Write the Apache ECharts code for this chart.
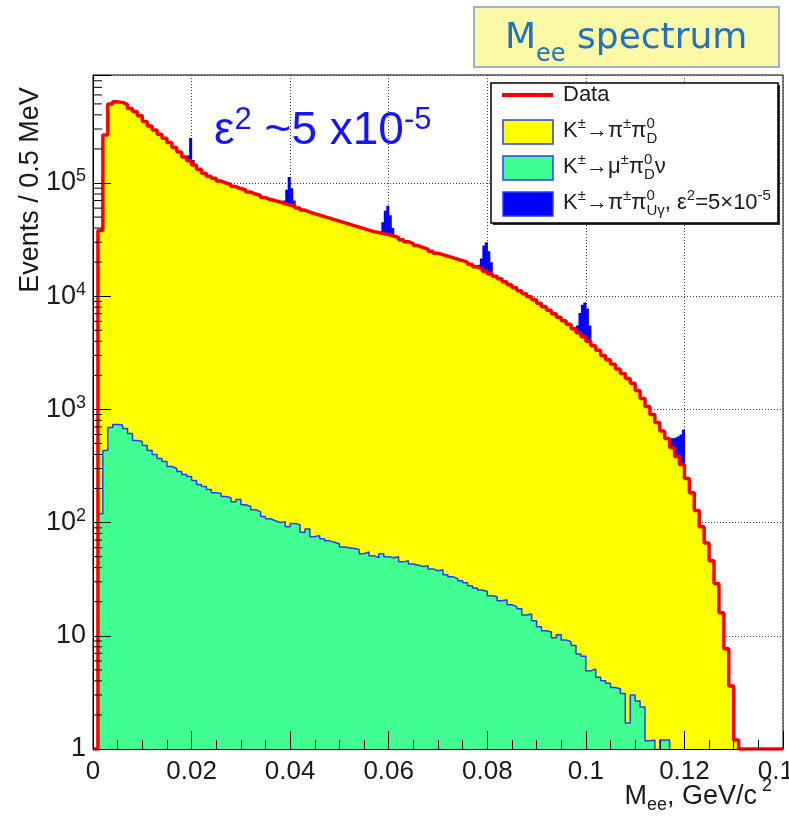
<!DOCTYPE html>
<html>
<head>
<meta charset="utf-8">
<script src="https://cdn.jsdelivr.net/npm/echarts@6/dist/echarts.min.js"></script>
<style>
  html, body { margin: 0; padding: 0; background: #fff; }
  #chart { width: 789px; height: 817px; }
</style>
</head>
<body>
<div id="chart"></div>
<script>
// M_ee spectrum, events per bin (1 MeV bins, 0 .. 0.14 GeV)
const binWidth = 0.001;
const xMax = 0.14;

const dataCounts = [
  1, 38000, 266000, 500000, 521000, 515000, 495000, 456000, 429000, 392000,
  350000, 319000, 294000, 269000, 248000, 228000, 206000, 188000, 170000, 157000,
  144000, 132000, 122000, 115000, 110000, 104000, 100000, 97000, 93100, 89400,
  86700, 83200, 79900, 77500, 74400, 71500, 70000, 67900, 65900, 63900,
  62600, 60100, 57700, 55400, 53700, 52100, 50500, 49000, 47500, 46100,
  44700, 43400, 42000, 40800, 39600, 38400, 37200, 36500, 35700, 35000,
  34000, 33000, 31600, 30300, 29200, 28000, 26900, 26100, 25000, 24000,
  23300, 22600, 21900, 21200, 20600, 20000, 19200, 18200, 17500, 16600,
  15800, 15000, 14300, 13400, 12600, 11900, 11200, 10500, 9900, 9300,
  8670, 8070, 7520, 7000, 6520, 6070, 5650, 5150, 4750, 4380,
  4000, 3650, 3330, 3000, 2740, 2500, 2280, 2080, 1880, 1700,
  1470, 1250, 1060, 900, 767, 645, 553, 461, 384, 326,
  245, 184, 128, 92, 66, 46, 29, 16, 7.7, 3.6,
  1.2, 1, 1, 1, 1, 1, 1, 1, 1, 1
];

// K -> pi pi0_D MC sum sits on the data
const mcCounts = dataCounts;

const muCounts = [
  0.5, 120, 433, 693, 736, 730, 679, 613, 532, 521,
  480, 434, 400, 368, 347, 313, 301, 283, 266, 255,
  235, 217, 208, 196, 184, 181, 170, 166, 153, 160,
  144, 139, 130, 125, 113, 108, 104, 100, 102, 92,
  98, 96, 82, 88, 75, 77, 72, 69, 67, 65,
  61, 60, 59, 58, 53, 55, 51, 49, 53, 50,
  49, 50, 45, 46, 43, 42, 41, 41.5, 39, 37.6,
  38.4, 34.7, 33.3, 32, 30.7, 29.4, 27.7, 26.5, 25.4, 24.6,
  22.6, 22.1, 20.4, 20.8, 18.8, 18.1, 17.3, 15.3, 15.6, 13.6,
  12.0, 11.1, 10.8, 9.6, 10.2, 9.2, 8.85, 8.2, 6.9, 6.6,
  4.9, 5.1, 4.3, 4.0, 3.8, 3.5, 3.4, 3.1, 1.7, 3.0,
  2.66, 2.35, 1.18, 1.2, 0.5, 1.2, 1.2, 0.5, 0.5, 0.5,
  0.5, 0.5, 0.5, 0.5, 0.5, 0.5, 0.5, 0.5, 0.5, 0.5,
  0.5, 0.5, 0.5, 0.5, 0.5, 0.5, 0.5, 0.5, 0.5, 0.5
];

// U-gamma signal peaks (total counts, 0.5 MeV bins from peakStart)
const halfBin = 0.0005;
const peakStart = [0.019, 0.0385, 0.0585, 0.078, 0.0975, 0.1165];
const peakCounts = [
  [175000, 250000, 160000],
  [70000, 87000, 113000, 90000, 70000],
  [45000, 57000, 63000, 52000, 40000],
  [19000, 21500, 28000, 30000, 25000, 20000],
  [4800, 5500, 7100, 8400, 8800, 7800, 5500, 3800],
  [540, 560, 555, 565, 580, 600, 660]
];

const yMin = 1, yMax = 9e5;

const FONT = "'Liberation Sans', Arial, sans-serif";
const INK = '#1a1a1a';

function histPoints(counts) {
  const pts = counts.map((c, i) => [i * binWidth, c]);
  pts.push([xMax, counts[counts.length - 1]]);
  return pts;
}

const peakBins = [];
peakStart.forEach((s, p) => {
  peakCounts[p].forEach((c, k) => peakBins.push([s + k * halfBin, c]));
});

// log minor ticks 2..9 x 10^k
const minorTickData = [];
for (let e = 0; e <= 5; e++) {
  for (let m = 2; m <= 9; m++) {
    const v = m * Math.pow(10, e);
    if (v < yMax) minorTickData.push([0, v]);
  }
}

// --- text helpers for sub/superscripts ---
const mctx = document.createElement('canvas').getContext('2d');
function textW(t, size, family) {
  mctx.font = size + 'px ' + family;
  return mctx.measureText(t).width;
}
function composed(x, y, parts, opts) {
  const family = opts.family || FONT;
  let cx = 0, lastStart = 0, lastW = 0;
  const items = [];
  parts.forEach(p => {
    const w = textW(p.t, p.s, family);
    let px;
    if (p.stack) {
      px = lastStart;
      cx = lastStart + Math.max(lastW, w);
    } else {
      px = cx; lastStart = cx; lastW = w; cx += w;
    }
    items.push({ px, p });
  });
  const x0 = opts.align === 'right' ? x - cx : x;
  return items.map(it => ({
    type: 'text', z: 100, silent: true,
    x: x0 + it.px, y: y + (it.p.dy || 0),
    style: {
      text: it.p.t, fill: opts.color || INK,
      fontSize: it.p.s, fontFamily: family,
      textAlign: 'left', textVerticalAlign: 'middle'
    }
  }));
}

const L = 22, LS = 15;
const legendRows = [
  [{ t: 'K', s: L }, { t: '±', s: LS, dy: -7 }, { t: '→', s: L }, { t: 'π', s: L }, { t: '±', s: LS, dy: -7 },
   { t: 'π', s: L }, { t: '0', s: LS, dy: -7 }, { t: 'D', s: LS, dy: 8, stack: true }],
  [{ t: 'K', s: L }, { t: '±', s: LS, dy: -7 }, { t: '→', s: L }, { t: 'μ', s: L }, { t: '±', s: LS, dy: -7 },
   { t: 'π', s: L }, { t: '0', s: LS, dy: -7 }, { t: 'D', s: LS, dy: 8, stack: true }, { t: 'ν', s: L }],
  [{ t: 'K', s: L }, { t: '±', s: LS, dy: -7 }, { t: '→', s: L }, { t: 'π', s: L }, { t: '±', s: LS, dy: -7 },
   { t: 'π', s: L }, { t: '0', s: LS, dy: -7 }, { t: 'Uγ', s: LS, dy: 8, stack: true }, { t: ', ε', s: L },
   { t: '2', s: LS, dy: -7 }, { t: '=5×10', s: L }, { t: '-5', s: LS, dy: -7 }]
];

const graphics = [
  // title box
  { type: 'rect', z: 100, shape: { x: 474, y: 7, width: 305, height: 60 },
    style: { fill: '#fbf8a6', stroke: '#9db2cf', lineWidth: 2 } },
  ...composed(505, 39, [
    { t: 'M', s: 36 }, { t: 'ee', s: 24, dy: 16 }, { t: ' spectrum', s: 36 }
  ], { family: "'DejaVu Sans', sans-serif", color: '#2271c4' }),
  // coupling annotation
  ...composed(214, 131, [
    { t: 'ε', s: 46 }, { t: '2', s: 31, dy: -11 }, { t: ' ~5 x10', s: 46 }, { t: '-5', s: 31, dy: -11 }
  ], { color: '#1414ff' }),
  // legend
  { type: 'rect', z: 99, shape: { x: 493, y: 85, width: 287, height: 140 }, style: { fill: '#333' } },
  { type: 'rect', z: 100, shape: { x: 491, y: 83, width: 287, height: 140 },
    style: { fill: '#fff', stroke: '#000', lineWidth: 1.5 } },
  { type: 'line', z: 101, shape: { x1: 502, y1: 95, x2: 553, y2: 95 }, style: { stroke: '#ff0000', lineWidth: 4 } },
  { type: 'rect', z: 101, shape: { x: 503, y: 120, width: 50, height: 24 }, style: { fill: '#ffff00', stroke: '#2a3cff', lineWidth: 1.5 } },
  { type: 'rect', z: 101, shape: { x: 503, y: 156, width: 50, height: 24 }, style: { fill: '#40ff90', stroke: '#2a3cff', lineWidth: 1.5 } },
  { type: 'rect', z: 101, shape: { x: 503, y: 192, width: 50, height: 24 }, style: { fill: '#0000ff', stroke: '#2a3cff', lineWidth: 1.5 } },
  ...composed(563, 95, [{ t: 'Data', s: L }], {}),
  ...composed(563, 131, legendRows[0], {}),
  ...composed(563, 167, legendRows[1], {}),
  ...composed(563, 203, legendRows[2], {}),
  // axis titles
  { type: 'text', z: 100, x: 31, y: 190, rotation: Math.PI / 2,
    style: { text: 'Events / 0.5 MeV', fill: INK, fontSize: 27, fontFamily: FONT,
             textAlign: 'center', textVerticalAlign: 'middle' } },
  ...composed(772, 797, [
    { t: 'M', s: 27 }, { t: 'ee', s: 18, dy: 8 }, { t: ', GeV/c', s: 27 }, { t: ' 2', s: 18, dy: -11 }
  ], { align: 'right' })
];

const chart = echarts.init(document.getElementById('chart'), null, { renderer: 'canvas' });

const lineBase = { type: 'line', step: 'end', symbol: 'none', silent: true, clip: true,
                   xAxisIndex: 0, yAxisIndex: 0 };

chart.setOption({
  animation: false,
  backgroundColor: '#fff',
  grid: { left: 93, right: 6, top: 75, bottom: 68, show: true, borderColor: '#000', borderWidth: 1,
          backgroundColor: 'transparent', outerBoundsMode: 'none', containLabel: false },
  xAxis: [
    { type: 'value', min: 0, max: xMax, interval: 0.02, position: 'bottom', z: 0,
      axisLine: { show: false }, axisTick: { show: false },
      axisLabel: { fontSize: 26, fontFamily: FONT, color: INK, margin: 10,
                   formatter: v => String(+v.toFixed(2)) },
      splitLine: { show: true, lineStyle: { color: '#444', width: 1, type: [1, 2] } } },
    { type: 'value', min: 0, max: xMax, interval: 0.02, position: 'bottom', z: 10,
      axisLine: { show: true, onZero: false, lineStyle: { color: '#000', width: 1 } },
      axisTick: { show: true, inside: true, length: 18, lineStyle: { color: '#000', width: 1 } },
      minorTick: { show: true, splitNumber: 4, length: 9, lineStyle: { color: '#000', width: 1 } },
      axisLabel: { show: false }, splitLine: { show: false } }
  ],
  yAxis: [
    { type: 'log', logBase: 10, min: yMin, max: yMax, position: 'left', z: 0,
      axisLine: { show: false }, axisTick: { show: false },
      axisLabel: { fontSize: 27, fontFamily: FONT, color: INK, margin: 7, showMaxLabel: false,
        formatter: v => {
          const e = Math.round(Math.log10(v));
          if (e === 0) return '1';
          if (e === 1) return '10';
          return '10{sup|' + e + '}';
        },
        rich: { sup: { fontSize: 18, fontFamily: FONT, color: INK, padding: [0, 0, 13, 0] } } },
      splitLine: { show: true, lineStyle: { color: '#444', width: 1, type: [1, 2] } } },
    { type: 'log', logBase: 10, min: yMin, max: yMax, position: 'left', z: 10,
      axisLine: { show: true, onZero: false, lineStyle: { color: '#000', width: 1 } },
      axisTick: { show: true, inside: true, length: 18, lineStyle: { color: '#000', width: 1 } },
      axisLabel: { show: false }, splitLine: { show: false } }
  ],
  series: [
    { type: 'custom', name: 'U gamma', data: peakBins, z: 2, silent: true, clip: true,
      xAxisIndex: 0, yAxisIndex: 0,
      renderItem: (params, api) => {
        const top = api.coord([api.value(0), api.value(1)]);
        const end = api.coord([api.value(0) + halfBin, yMin]);
        return { type: 'rect',
                 shape: { x: top[0], y: top[1], width: end[0] - top[0] + 0.6, height: end[1] - top[1] },
                 style: { fill: '#0000ff' } };
      } },
    { ...lineBase, name: 'pi pi0', data: histPoints(mcCounts), z: 3,
      lineStyle: { color: '#2a3cff', width: 1 }, areaStyle: { color: '#ffff00', opacity: 1, origin: 'start' } },
    { ...lineBase, name: 'mu pi0 nu', data: histPoints(muCounts), z: 4,
      lineStyle: { color: '#1f3cff', width: 1.5 }, areaStyle: { color: '#40ff90', opacity: 1, origin: 'start' } },
    { ...lineBase, name: 'Data', data: histPoints(dataCounts), z: 5,
      lineStyle: { color: '#ff0000', width: 3.5 } },
    { type: 'custom', name: 'minor ticks', data: minorTickData, z: 6, silent: true,
      xAxisIndex: 0, yAxisIndex: 0,
      renderItem: (params, api) => {
        const p = api.coord([api.value(0), api.value(1)]);
        return { type: 'line', shape: { x1: p[0], y1: p[1], x2: p[0] + 9, y2: p[1] },
                 style: { stroke: '#000', lineWidth: 1 } };
      } }
  ],
  graphic: graphics
});
</script>
</body>
</html>
